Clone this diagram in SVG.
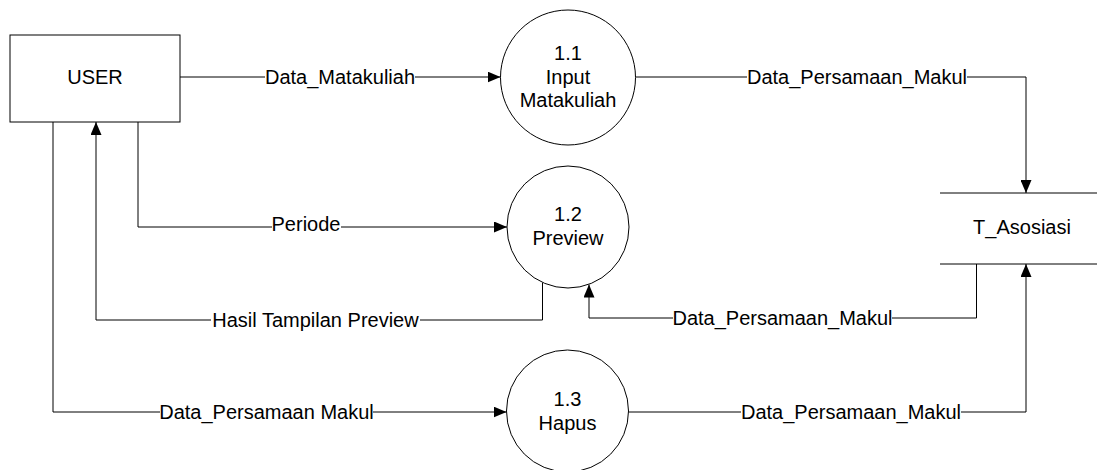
<svg xmlns="http://www.w3.org/2000/svg" width="1097" height="470" viewBox="0 0 1097 470">
<style>
text{font-family:"Liberation Sans",Arial,sans-serif;font-size:20px;fill:#000;text-anchor:middle}
.shape{fill:#fff;stroke:#000;stroke-width:1}
.line{fill:none;stroke:#000;stroke-width:1}
.bg{fill:#fff}
</style>
<defs>
<marker id="arr" markerUnits="userSpaceOnUse" markerWidth="13" markerHeight="11" refX="13" refY="5.5" orient="auto">
<path d="M0,0 L13,5.5 L0,11 z" fill="#000"/>
</marker>
</defs>
<g id="connectors">
<polyline class="line" points="180,77 500.5,77" marker-end="url(#arr)"/>
<polyline class="line" points="635.5,77 1026,77 1026,193" marker-end="url(#arr)"/>
<polyline class="line" points="138,122 138,227 507,227" marker-end="url(#arr)"/>
<polyline class="line" points="542.5,282.5 542.5,320 96,320 96,122" marker-end="url(#arr)"/>
<polyline class="line" points="976.5,264 976.5,318 589,318 589,284.5" marker-end="url(#arr)"/>
<polyline class="line" points="53,122 53,412 506.5,412" marker-end="url(#arr)"/>
<polyline class="line" points="628.5,412 1026,412 1026,264" marker-end="url(#arr)"/>
<rect class="bg" x="265" y="67" width="150" height="20"/>
<text x="340" y="84">Data_Matakuliah</text>
<rect class="bg" x="747" y="67" width="220" height="20"/>
<text x="857" y="84">Data_Persamaan_Makul</text>
<rect class="bg" x="272" y="215" width="69" height="20"/>
<text x="306" y="231">Periode</text>
<rect class="bg" x="211" y="310" width="209" height="20"/>
<text x="315.5" y="327">Hasil Tampilan Preview</text>
<rect class="bg" x="673" y="308" width="219" height="20"/>
<text x="782.5" y="325">Data_Persamaan_Makul</text>
<rect class="bg" x="160" y="402" width="213" height="20"/>
<text x="266.5" y="419">Data_Persamaan Makul</text>
<rect class="bg" x="741" y="402" width="220" height="20"/>
<text x="851" y="419">Data_Persamaan_Makul</text>
</g>
<g id="user">
<rect class="shape" x="10" y="35" width="170" height="87"/>
<text x="95" y="84">USER</text>
</g>
<g id="p11">
<circle class="shape" cx="568" cy="77.5" r="67.5"/>
<text x="568" y="60">1.1</text>
<text x="568" y="83.5">Input</text>
<text x="568" y="107">Matakuliah</text>
</g>
<g id="p12">
<circle class="shape" cx="568" cy="227" r="61"/>
<text x="568" y="221">1.2</text>
<text x="568" y="245">Preview</text>
</g>
<g id="p13">
<circle class="shape" cx="567.5" cy="411" r="61"/>
<text x="567.5" y="406">1.3</text>
<text x="567.5" y="429.5">Hapus</text>
</g>
<g id="t_asosiasi">
<line class="line" x1="940" y1="193" x2="1097" y2="193"/>
<line class="line" x1="940" y1="264" x2="1097" y2="264"/>
<text x="1022" y="233.5">T_Asosiasi</text>
</g>
</svg>
